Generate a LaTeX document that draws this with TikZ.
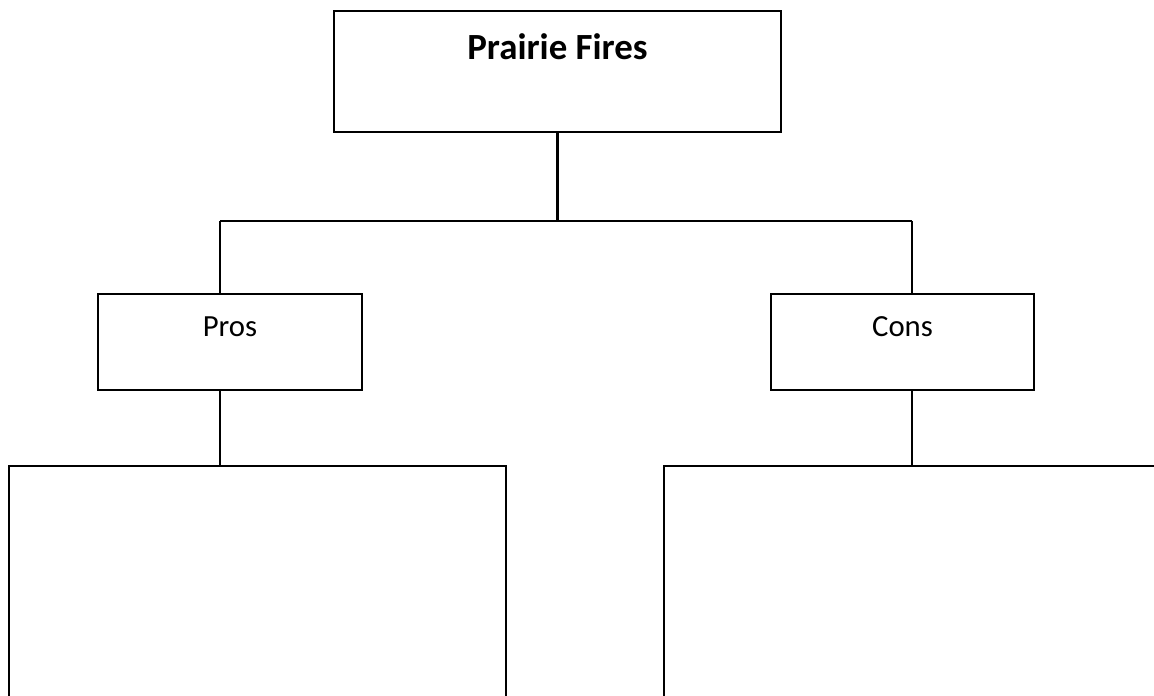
\documentclass[tikz,border=0pt]{standalone}
\usepackage{fontspec}
\setmainfont{Carlito}
\usetikzlibrary{positioning}

\begin{document}
\begin{tikzpicture}[x=0.02cm, y=-0.02cm, line width=1.3pt, box/.style={draw, inner sep=0pt, anchor=north}, head/.style={box, minimum width=5.27cm, text height=0.84cm, text depth=1.08cm, font=\fontsize{17.5}{21}\selectfont}, list/.style={box, minimum height=5.4cm}]
\useasboundingbox (0,0) rectangle (1154,696);
\node[box, minimum width=8.94cm, text height=0.96cm, text depth=1.46cm, font=\bfseries\fontsize{21}{25}\selectfont] (fires) at (557.5,10) {Prairie Fires};
\node[head] (pros) at (230,293) {Pros};
\node[head] (cons) at (902.5,293) {Cons};
\node[list, minimum width=9.94cm] (prolist) at (257.5,465) {};
\node[list, minimum width=10.12cm] (conlist) at (917,465) {};
\coordinate (jl) at (220,221); \coordinate (jr) at (912,221);
\draw (fires.south) -- (fires.south |- jl); \draw (jl) -- (jr);
\draw (jl) -- (jl |- pros.north); \draw (jr) -- (jr |- cons.north);
\draw (jl |- pros.south) -- (jl |- prolist.north); \draw (jr |- cons.south) -- (jr |- conlist.north);
\end{tikzpicture}
\end{document}
